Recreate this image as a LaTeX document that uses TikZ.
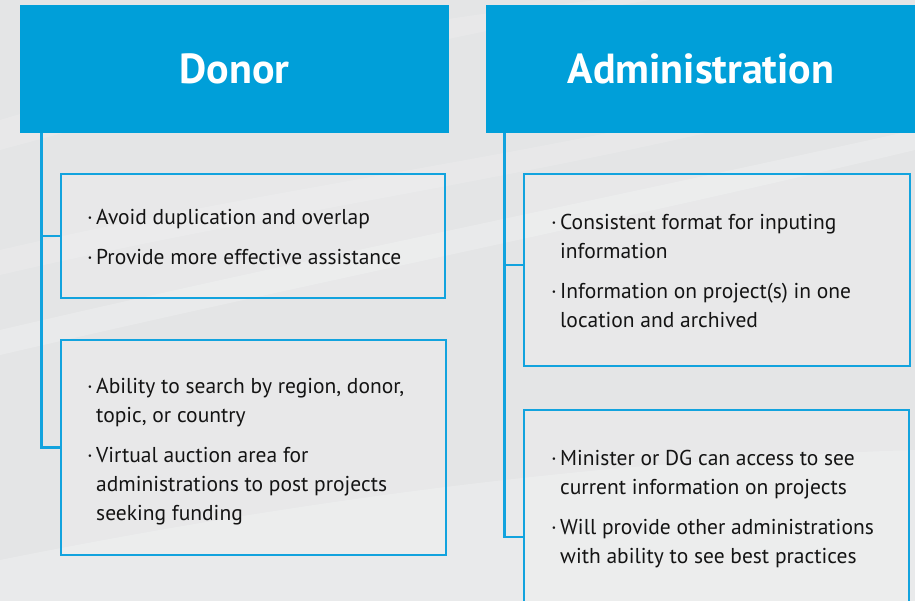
\documentclass[tikz,border=0pt]{standalone}
\usepackage{fontspec}
\setmainfont{PT Sans}
\definecolor{hblue}{HTML}{009FD9}
\definecolor{bblue}{HTML}{12A3DE}
\definecolor{bgc}{HTML}{E4E5E6}
\definecolor{ink}{HTML}{141414}
\newcommand{\itemtab}[1]{\begin{tabular}[t]{@{}l@{}}#1\end{tabular}}
\newcommand{\bul}{\makebox[9pt][l]{·}}
\newcommand{\ind}{\hspace*{9pt}}
\begin{document}
\begin{tikzpicture}[x=1pt,y=-1pt,
  header/.style={fill=hblue, draw=none, inner sep=0pt, text=white,
    font=\fontsize{42}{46}\selectfont\bfseries},
  infobox/.style={draw=bblue, line width=2.5pt, fill=white, fill opacity=0.15,
    text opacity=1, inner sep=0pt},
  conn/.style={draw=bblue, line width=2.5pt, line join=miter},
  itm/.style={anchor=base west, inner sep=0pt, text=ink,
    font=\fontsize{21.5}{29}\selectfont},
  streak/.style={fill=white, draw=none}
]
\useasboundingbox (0,0) rectangle (915,601);
\clip (0,0) rectangle (915,601);
% background
\fill[bgc] (0,0) rectangle (915,601);
\fill[streak, opacity=0.22] (0,330) .. controls (300,260) and (600,200) .. (915,130)
  -- (915,150) .. controls (600,225) and (300,285) .. (0,355) -- cycle;
\fill[streak, opacity=0.15] (0,250) .. controls (300,180) and (600,150) .. (915,60)
  -- (915,80) .. controls (600,170) and (300,205) .. (0,275) -- cycle;
\fill[streak, opacity=0.22] (0,601) -- (0,560) .. controls (300,500) and (600,460) .. (915,450)
  -- (915,601) -- cycle;
\fill[streak, opacity=0.15] (0,120) .. controls (200,60) and (400,20) .. (600,0)
  -- (650,0) .. controls (420,40) and (220,90) .. (0,150) -- cycle;

% headers
\node[header, minimum width=429pt, minimum height=128pt] (donor) at (234.5,69) {Donor};
\node[header, minimum width=430pt, minimum height=128pt] (admin) at (701,69) {Administration};

% boxes
\node[infobox, minimum width=384pt, minimum height=124pt] (b1) at (253,236) {};
\node[infobox, minimum width=385pt, minimum height=215pt] (b2) at (253.5,447.5) {};
\node[infobox, minimum width=386pt, minimum height=192pt] (b3) at (717,270) {};
\node[infobox, minimum width=385pt, minimum height=254pt] (b4) at (716.5,537) {};

% connectors
\draw[conn] ([xshift=21.5pt]donor.south west) |- (b2.west);
\draw[conn] ([xshift=21.5pt]donor.south west) |- (b1.west);
\draw[conn] ([xshift=18.5pt]admin.south west) |- (b4.west);
\draw[conn] ([xshift=18.5pt]admin.south west) |- ([yshift=5pt]b3.west);

% texts
\node[itm] (t11) at (87,225) {\itemtab{\bul Avoid duplication and overlap}};
\node[itm] (t12) at (87,265) {\itemtab{\bul Provide more effective assistance}};
\node[itm] (t21) at (87,393) {\itemtab{\bul Ability to search by region, donor,\\\ind topic, or country}};
\node[itm] (t22) at (87,462) {\itemtab{\bul Virtual auction area for\\\ind administrations to post projects\\\ind seeking funding}};
\node[itm] (t31) at (551,230) {\itemtab{\bul Consistent format for inputing\\\ind information}};
\node[itm] (t32) at (551,299) {\itemtab{\bul Information on project(s) in one\\\ind location and archived}};
\node[itm] (t41) at (551,465) {\itemtab{\bul Minister or DG can access to see\\\ind current information on projects}};
\node[itm] (t42) at (551,534) {\itemtab{\bul Will provide other administrations\\\ind with ability to see best practices}};
\end{tikzpicture}
\end{document}
